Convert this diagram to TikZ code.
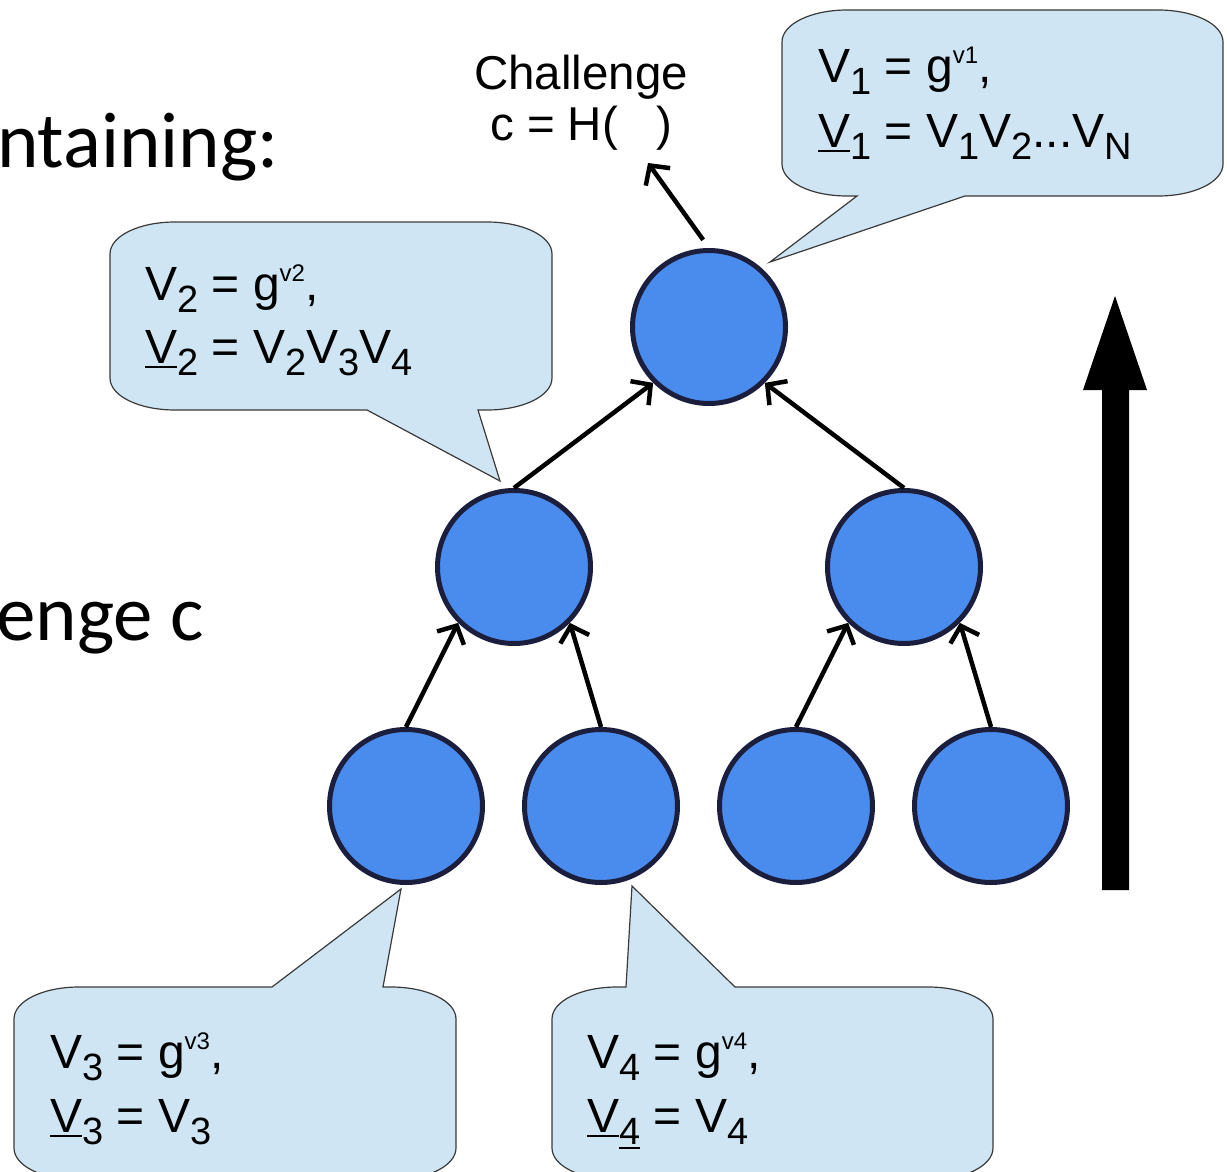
\documentclass[tikz,border=0pt]{standalone}
\usepackage{fontspec}
\setmainfont{Liberation Sans}
\newfontfamily\calfont{Carlito}
\usetikzlibrary{arrows.meta}
\definecolor{circfill}{HTML}{4A8CEE}
\definecolor{circdraw}{HTML}{1C1E3E}
\definecolor{callfill}{HTML}{CFE5F3}
\definecolor{calldraw}{HTML}{3A3A3A}
\newcommand\sbs[1]{\raisebox{-12pt}{\fontsize{38}{38}\selectfont #1}}
\newcommand\sps[1]{\raisebox{19pt}{\fontsize{24}{24}\selectfont #1}}
\newcommand\ulb[1]{\setbox0\hbox{#1}\rlap{\rule[-5pt]{\wd0}{2.2pt}}\box0}
\begin{document}
\begin{tikzpicture}[x=1pt,y=-1pt,
  tn/.style={circle,fill=circfill,draw=circdraw,line width=5pt,minimum size=153pt,inner sep=0pt},
  edge/.style={line width=4.5pt,-{Straight Barb[length=14pt,width=30pt]}},
  callbox/.style={fill=callfill,draw=calldraw,line width=1.2pt,line join=miter},
  lbl/.style={anchor=base west,inner sep=0pt,font=\fontsize{48}{58}\selectfont},
  chal/.style={anchor=base,inner sep=0pt,font=\fontsize{47.5}{54}\selectfont},
  bigtxt/.style={anchor=base west,inner sep=0pt,font=\calfont\fontsize{79}{84}\selectfont}]
\useasboundingbox (0,0) rectangle (1227,1172);

% background text
\node[bigtxt] (t1) at (-3,167) {ntaining:};
\node[bigtxt] (t2) at (-4,640) {enge c};

% callout A (top right)
\path[callbox] (782,42) .. controls +(0,-18) and +(-36,0) .. (847,10) -- (1158,10)
  .. controls +(36,0) and +(0,-18) .. (1223,42) -- (1223,164)
  .. controls +(0,18) and +(36,0) .. (1158,196) -- (965,196) -- (770,262) -- (857,196) -- (847,196)
  .. controls +(-36,0) and +(0,18) .. (782,164) -- cycle;
% callout B (V2)
\path[callbox] (110,254) .. controls +(0,-18) and +(-36,0) .. (175,222) -- (487,222)
  .. controls +(36,0) and +(0,-18) .. (552,254) -- (552,378)
  .. controls +(0,18) and +(36,0) .. (487,410) -- (478,410) -- (500,481) -- (367,410) -- (175,410)
  .. controls +(-36,0) and +(0,18) .. (110,378) -- cycle;
% callout C (V3)
\path[callbox] (14,1019) .. controls +(0,-18) and +(-36,0) .. (79,987) -- (272,987) -- (401,889) -- (383,987) -- (391,987)
  .. controls +(36,0) and +(0,-18) .. (456,1019) -- (456,1148)
  .. controls +(0,18) and +(36,0) .. (391,1180) -- (79,1180)
  .. controls +(-36,0) and +(0,18) .. (14,1148) -- cycle;
% callout D (V4)
\path[callbox] (552,1019) .. controls +(0,-18) and +(-36,0) .. (617,987) -- (626,987) -- (632,886) -- (735,987) -- (928,987)
  .. controls +(36,0) and +(0,-18) .. (993,1019) -- (993,1148)
  .. controls +(0,18) and +(36,0) .. (928,1180) -- (617,1180)
  .. controls +(-36,0) and +(0,18) .. (552,1148) -- cycle;

% tree
\node[tn] (top) at (709,327) {};
\node[tn] (ml) at (514,567) {};
\node[tn] (mr) at (904,567) {};
\node[tn] (b1) at (406,806) {};
\node[tn] (b2) at (601,806) {};
\node[tn] (b3) at (796,806) {};
\node[tn] (b4) at (991,806) {};

\draw[edge] (b1.north) -- (ml.225);
\draw[edge] (b2.north) -- (ml.315);
\draw[edge] (b3.north) -- (mr.225);
\draw[edge] (b4.north) -- (mr.315);
\draw[edge] (ml.north) -- (top.225);
\draw[edge] (mr.north) -- (top.315);
\coordinate (chtip) at (648,163);
\draw[edge,shorten <=10pt] (top.north) -- (chtip);

% big arrow
\fill[black] (1102,890) -- (1102,390) -- (1083,390) -- (1115,296) -- (1147,390) -- (1129,390) -- (1129,890) -- cycle;

% texts
\node[chal] (ch1) at (581,90) {Challenge};
\node[chal] (ch2) at (581,140) {c = H(\hspace{38pt})};

\node[lbl] (a1) at (818,83) {V\sbs{1} = g\sps{v1},};
\node[lbl] (a2) at (818,147) {\ulb{V}\sbs{1} = V\sbs{1}V\sbs{2}...V\sbs{N}};
\node[lbl] (b1t) at (145,300) {V\sbs{2} = g\sps{v2},};
\node[lbl] (b2t) at (145,363) {\ulb{V}\sbs{2} = V\sbs{2}V\sbs{3}V\sbs{4}};
\node[lbl] (c1t) at (50,1068) {V\sbs{3} = g\sps{v3},};
\node[lbl] (c2t) at (50,1132) {\ulb{V}\sbs{3} = V\sbs{3}};
\node[lbl] (d1t) at (587,1068) {V\sbs{4} = g\sps{v4},};
\node[lbl] (d2t) at (587,1132) {\ulb{V}\sbs{\ulb{4}} = V\sbs{4}};
\end{tikzpicture}
\end{document}
